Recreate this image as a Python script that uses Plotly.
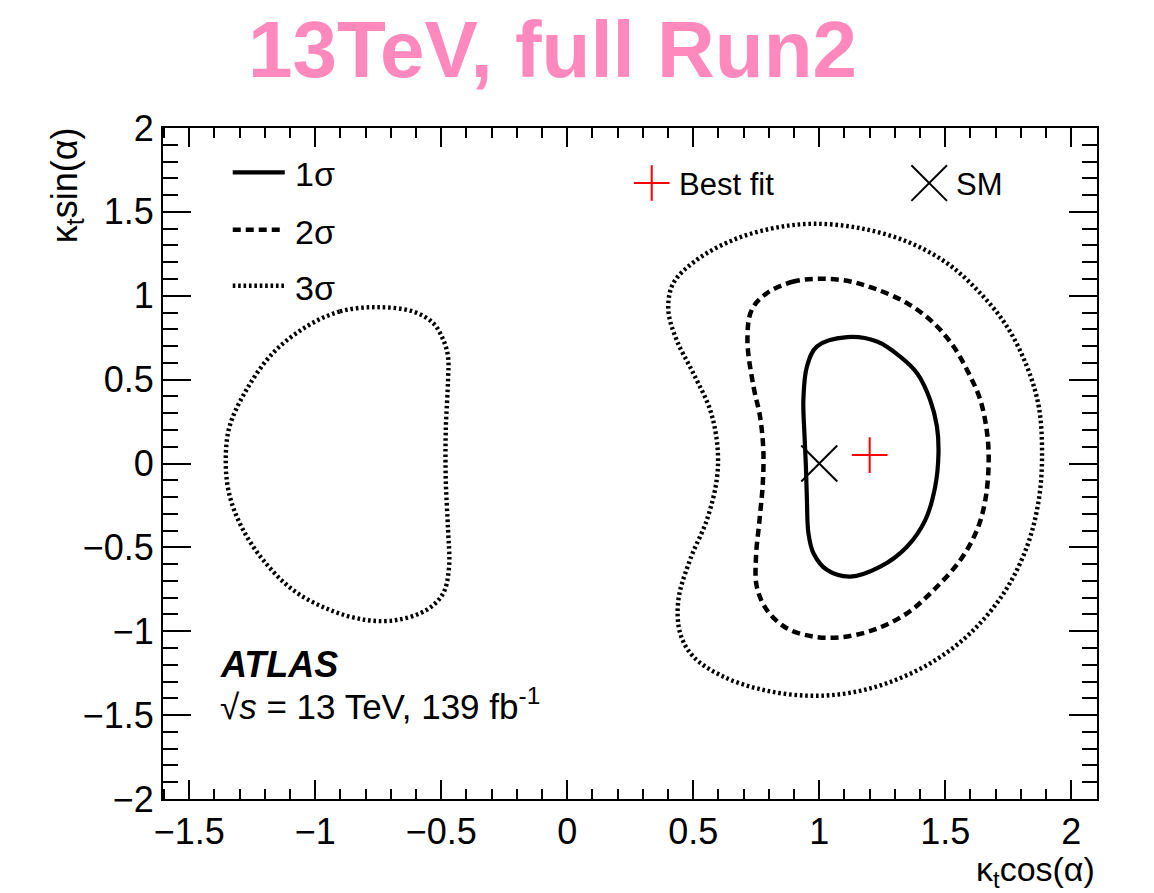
import plotly.graph_objects as go

# Likelihood contours in the (kt*cos(alpha), kt*sin(alpha)) plane
sig1_x = [1.110, 0.990, 0.951, 0.937, 0.941, 0.947, 0.951, 0.957, 0.977, 1.030, 1.123, 1.242,
          1.348, 1.421, 1.460, 1.473, 1.467, 1.440, 1.388, 1.321, 1.229]
sig1_y = [0.753, 0.697, 0.578, 0.379, 0.181, -0.018, -0.217, -0.416, -0.535, -0.634, -0.674, -0.615,
          -0.496, -0.336, -0.138, 0.061, 0.220, 0.379, 0.538, 0.637, 0.727]

sig2_x = [1.004, 0.898, 0.792, 0.732, 0.715, 0.739, 0.765, 0.778, 0.776, 0.763, 0.749, 0.752,
          0.792, 0.871, 0.977, 1.083, 1.215, 1.348, 1.454, 1.560, 1.626, 1.659, 1.672, 1.666,
          1.639, 1.593, 1.533, 1.454, 1.348, 1.215, 1.110]
sig2_y = [1.101, 1.085, 1.015, 0.916, 0.737, 0.459, 0.280, 0.081, -0.117, -0.336, -0.555, -0.734,
          -0.873, -0.982, -1.032, -1.036, -0.992, -0.893, -0.754, -0.575, -0.396, -0.217, 0.002, 0.181,
          0.379, 0.538, 0.697, 0.837, 0.956, 1.045, 1.089]

sig3_right_x = [0.977, 0.818, 0.659, 0.514, 0.421, 0.401, 0.434, 0.500, 0.567, 0.596, 0.593, 0.554,
                0.487, 0.441, 0.448, 0.500, 0.620, 0.778, 0.951, 1.110, 1.268, 1.440, 1.599, 1.732,
                1.824, 1.871, 1.884, 1.871, 1.824, 1.745, 1.639, 1.507, 1.348, 1.162]
sig3_right_y = [1.429, 1.403, 1.333, 1.214, 1.075, 0.916, 0.737, 0.538, 0.320, 0.101, -0.098, -0.336,
                -0.575, -0.813, -1.012, -1.151, -1.271, -1.350, -1.384, -1.370, -1.310, -1.191, -1.012, -0.773,
                -0.496, -0.217, 0.061, 0.339, 0.578, 0.816, 1.015, 1.194, 1.323, 1.403]

sig3_left_x = [-0.757, -0.903, -1.035, -1.168, -1.273, -1.340, -1.355, -1.342, -1.293, -1.207, -1.088,
               -0.942, -0.797, -0.678, -0.558, -0.492, -0.469, -0.473, -0.482, -0.482, -0.473, -0.473,
               -0.492, -0.532, -0.612]
sig3_left_y = [0.932, 0.906, 0.816, 0.658, 0.439, 0.220, 0.021, -0.177, -0.376, -0.575, -0.754,
               -0.873, -0.933, -0.933, -0.873, -0.773, -0.615, -0.396, -0.098, 0.200, 0.498, 0.637,
               0.737, 0.837, 0.906]

best_fit = (1.20, 0.05)
sm_point = (1.0, 0.0)

x_ticks = [-1.5, -1, -0.5, 0, 0.5, 1, 1.5, 2]
y_ticks = [-2, -1.5, -1, -0.5, 0, 0.5, 1, 1.5, 2]

legend_labels = ["1σ", "2σ", "3σ"]
marker_labels = ["Best fit", "SM"]

FONT = "Liberation Sans"
W, H = 1154, 893
L, R, T, B = 163.3, 1096.7, 128.3, 799.0


def px(x):
    return (x - L) / (R - L)


def py(y):
    return (B - y) / (B - T)


def closed(xs, ys):
    return list(xs) + [xs[0]], list(ys) + [ys[0]]


styles = {
    "solid": dict(color="black", width=4.2, dash="solid"),
    "dash": dict(color="black", width=4.5, dash="8px,5px"),
    "dot": dict(color="black", width=4.4, dash="2.6px,2.8px"),
}

fig = go.Figure()

for xs, ys, st in [(sig1_x, sig1_y, "solid"), (sig2_x, sig2_y, "dash"),
                   (sig3_right_x, sig3_right_y, "dot"), (sig3_left_x, sig3_left_y, "dot")]:
    cx, cy = closed(xs, ys)
    fig.add_trace(go.Scatter(x=cx, y=cy, mode="lines", line=dict(shape="spline", smoothing=1.0, **styles[st]),
                             showlegend=False, hoverinfo="skip"))

fig.add_trace(go.Scatter(x=[sm_point[0]], y=[sm_point[1]], mode="markers",
                         marker=dict(symbol="x-thin", size=36, line=dict(color="black", width=2)),
                         showlegend=False))
fig.add_trace(go.Scatter(x=[best_fit[0]], y=[best_fit[1]], mode="markers",
                         marker=dict(symbol="cross-thin", size=25.5, line=dict(color="red", width=2)),
                         showlegend=False))

shapes = []
annotations = []

# Line-style key (top left)
for i, (lab, st) in enumerate(zip(legend_labels, ["solid", "dash", "dot"])):
    yy = [172.7, 230.0, 286.0][i]
    s = styles[st]
    shapes.append(dict(type="line", xref="paper", yref="paper", x0=px(233), x1=px(285), y0=py(yy), y1=py(yy),
                       line=dict(color="black", width=s["width"], dash=s["dash"])))
    annotations.append(dict(xref="paper", yref="paper", x=px(293), y=py(yy + 2), text=lab, showarrow=False,
                            xanchor="left", yanchor="middle", font=dict(family=FONT, size=34, color="black")))

# Marker key (top right)
cx_, cy_ = 651.7, 183.3
shapes.append(dict(type="line", xref="paper", yref="paper", x0=px(cx_ - 17.8), x1=px(cx_ + 17.8),
                   y0=py(cy_), y1=py(cy_), line=dict(color="red", width=2)))
shapes.append(dict(type="line", xref="paper", yref="paper", x0=px(cx_), x1=px(cx_),
                   y0=py(cy_ - 17.8), y1=py(cy_ + 17.8), line=dict(color="red", width=2)))
sx_, sy_ = 929.0, 183.3
for dx, dy in [(1, 1), (1, -1)]:
    shapes.append(dict(type="line", xref="paper", yref="paper", x0=px(sx_ - 17.8 * dx), x1=px(sx_ + 17.8 * dx),
                       y0=py(sy_ - 17.8 * dy), y1=py(sy_ + 17.8 * dy), line=dict(color="black", width=2)))
annotations.append(dict(xref="paper", yref="paper", x=px(677), y=py(185), text=marker_labels[0], showarrow=False,
                        xanchor="left", yanchor="middle", font=dict(family=FONT, size=31, color="black")))
annotations.append(dict(xref="paper", yref="paper", x=px(954), y=py(185), text=marker_labels[1], showarrow=False,
                        xanchor="left", yanchor="middle", font=dict(family=FONT, size=31, color="black")))

# Experiment label
annotations.append(dict(xref="paper", yref="paper", x=px(218), y=py(665), text="<b><i>ATLAS</i></b>",
                        showarrow=False, xanchor="left", yanchor="middle",
                        font=dict(family=FONT, size=36, color="black")))
annotations.append(dict(xref="paper", yref="paper", x=px(218), y=py(704),
                        text="√<i>s</i> = 13 TeV, 139 fb<sup>-1</sup>",
                        showarrow=False, xanchor="left", yanchor="middle",
                        font=dict(family=FONT, size=35, color="black")))

# Axis titles
annotations.append(dict(xref="paper", yref="paper", x=px(1097), y=py(871), text="κ<sub>t</sub>cos(α)",
                        showarrow=False, xanchor="right", yanchor="middle",
                        font=dict(family=FONT, size=34, color="black")))
annotations.append(dict(xref="paper", yref="paper", x=px(67), y=py(126), text="κ<sub>t</sub>sin(α)",
                        showarrow=False, xanchor="center", yanchor="top", textangle=-90,
                        font=dict(family=FONT, size=36, color="black")))

# Title
annotations.append(dict(xref="paper", yref="paper", x=px(553), y=py(50), text="<b>13TeV, full Run2</b>",
                        showarrow=False, xanchor="center", yanchor="middle",
                        font=dict(family=FONT, size=80, color="#FF89BC")))

axis_common = dict(showline=True, linecolor="black", linewidth=2, mirror="allticks", ticks="inside",
                   tickwidth=2, tickcolor="black", showgrid=False, zeroline=False,
                   tickfont=dict(family=FONT, size=36, color="black"))

fig.update_xaxes(range=[-1.604, 2.102], tickvals=x_ticks, ticklen=19,
                 minor=dict(ticks="inside", ticklen=10, tickwidth=2, dtick=0.1, tick0=0, tickcolor="black",
                            showgrid=False),
                 **axis_common)
fig.update_yaxes(range=[-2, 2], tickvals=y_ticks, ticklen=28,
                 minor=dict(ticks="inside", ticklen=15, tickwidth=2, dtick=0.1, tick0=0, tickcolor="black",
                            showgrid=False),
                 **axis_common)

fig.update_layout(width=W, height=H, margin=dict(l=L, r=W - R, t=T, b=H - B, pad=0),
                  plot_bgcolor="white", paper_bgcolor="white", shapes=shapes, annotations=annotations,
                  showlegend=False)

fig.write_html("out.html")
